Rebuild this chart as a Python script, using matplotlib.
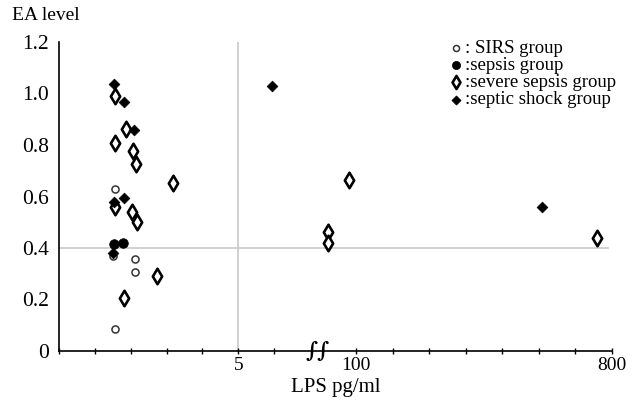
import numpy as np
import matplotlib
matplotlib.use("Agg")
import matplotlib.pyplot as plt
from matplotlib.ticker import FixedLocator, FixedFormatter, NullFormatter

# ---- data (LPS pg/ml, EA level) ----
sirs_x = [1.57, 1.51, 2.11, 2.13, 1.57]
sirs_y = [0.630, 0.370, 0.358, 0.308, 0.085]

sepsis_x = [1.53, 1.78]
sepsis_y = [0.416, 0.421]

severe_x = [1.57, 1.87, 1.57, 2.07, 2.15, 3.17, 1.57, 2.04, 2.18, 2.74, 1.82,
            24, 24, 81, 759]
severe_y = [0.991, 0.861, 0.807, 0.778, 0.725, 0.654, 0.560, 0.539, 0.500,
            0.293, 0.207, 0.463, 0.418, 0.664, 0.438]

shock_x = [1.52, 1.82, 2.10, 1.52, 1.82, 1.51, 5.93, 608]
shock_y = [1.036, 0.968, 0.858, 0.580, 0.593, 0.380, 1.029, 0.560]

labels = [": SIRS group", ":sepsis group", ":severe sepsis group", ":septic shock group"]
major_ticks = [5, 100, 800]
major_labels = ["5", "100", "800"]
minor_ticks = [0, 1, 2, 3, 4, 6, 200, 300, 400, 500, 600, 700]
y_ticks = [0, 0.2, 0.4, 0.6, 0.8, 1.0, 1.2]
y_labels = ["0", "0.2", "0.4", "0.6", "0.8", "1.0", "1.2"]

# ---- broken x scale: linear 0..~7.2, then linear 0..800 ----
B = 7.2
C = 7.266
K = 0.01019


def fwd(x):
    x = np.asarray(x, dtype=float)
    return np.where(x <= B, x, C + K * x)


def inv(u):
    u = np.asarray(u, dtype=float)
    return np.where(u <= B, u, np.maximum((u - C) / K, B))


plt.rcParams['font.family'] = ['Liberation Serif', 'DejaVu Serif']

fig = plt.figure(figsize=(6.32, 4.04), dpi=100)
ax = fig.add_axes([59 / 632, 53 / 404, 553 / 632, 309 / 404])
ax.set_xscale('function', functions=(fwd, inv))
ax.set_xlim(0, 800)
ax.set_ylim(0, 1.2)

grid_c = '#c9c9c9'
ax.axvline(5, color=grid_c, lw=1.2, zorder=1)
ax.axhline(0.4, xmin=0, xmax=0.993, color=grid_c, lw=1.2, zorder=1)

h1 = ax.scatter(sirs_x, sirs_y, s=26, marker='o', facecolors='white',
                edgecolors='#333333', linewidths=1.1, zorder=3)
h2 = ax.scatter(sepsis_x, sepsis_y, s=48, marker='o', facecolors='black',
                edgecolors='black', linewidths=0.5, zorder=3)
h3 = ax.scatter(severe_x, severe_y, s=62, marker='d', facecolors='white',
                edgecolors='black', linewidths=1.9, zorder=3)
h4 = ax.scatter(shock_x, shock_y, s=30, marker='D', facecolors='black',
                edgecolors='black', linewidths=0.5, zorder=4)

for s in ['top', 'right']:
    ax.spines[s].set_visible(False)
for s in ['left', 'bottom']:
    ax.spines[s].set_linewidth(1.2)
    ax.spines[s].set_color('black')

ax.xaxis.set_major_locator(FixedLocator(major_ticks))
ax.xaxis.set_major_formatter(FixedFormatter(major_labels))
ax.xaxis.set_minor_locator(FixedLocator(minor_ticks))
ax.xaxis.set_minor_formatter(NullFormatter())
ax.tick_params(axis='x', which='both', direction='inout', length=4, width=1.0,
               labelsize=14, pad=2)
ax.set_yticks(y_ticks)
ax.set_yticklabels(y_labels)
ax.tick_params(axis='y', length=0, labelsize=15.5, pad=7)

ax.set_xlabel("LPS pg/ml", fontsize=15, labelpad=3)
fig.text(12 / 632, 1 - 16 / 404, "EA level", fontsize=14, va='center', ha='left')

# axis break symbol
ax.text(fwd(B), 0, "\u222b\u222b", transform=ax.transData, fontsize=15,
        ha='center', va='center', family='DejaVu Serif', fontweight='bold', zorder=5)

leg = ax.legend([h1, h2, h3, h4], labels, loc='upper left',
                bbox_to_anchor=(448 / 632, 1 - 40 / 404), bbox_transform=fig.transFigure,
                frameon=False, fontsize=13.5, labelspacing=0.0, handlelength=0.8,
                handletextpad=0.1, borderpad=0, borderaxespad=0, markerscale=0.85)

fig.savefig("out.png", dpi=100)
